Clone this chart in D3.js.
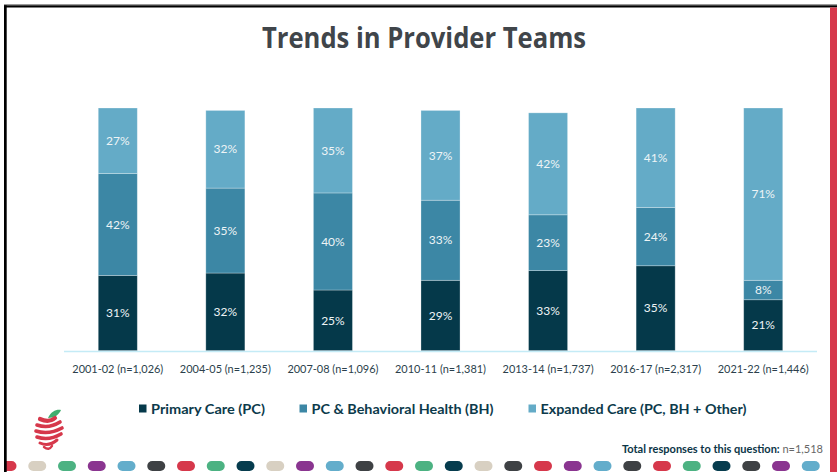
<!DOCTYPE html>
<html>
<head>
<meta charset="utf-8">
<script src="https://cdn.jsdelivr.net/npm/d3@7"></script>
<style>
  html, body { margin: 0; padding: 0; background: #fff; }
  svg { display: block; }
</style>
</head>
<body>
<div id="chart"></div>
<script>
(function() {

// data
const years = ["2001-02 (n=1,026)", "2004-05 (n=1,235)", "2007-08 (n=1,096)", "2010-11 (n=1,381)",
	"2013-14 (n=1,737)", "2016-17 (n=2,317)", "2021-22 (n=1,446)"];
const primaryCare = [31, 32, 25, 29, 33, 35, 21];
const behavioral = [42, 35, 40, 33, 23, 24, 8];
const expanded = [27, 32, 35, 37, 42, 41, 71];
const seriesNames = ["Primary Care (PC)", "PC & Behavioral Health (BH)", "Expanded Care (PC, BH + Other)"];
const dotColors = ["red", "beige", "green", "purple", "blue", "grey", "red", "green", "teal", "beige",
	"purple", "blue", "grey", "red", "green", "teal", "beige", "grey", "red", "purple", "blue", "grey",
	"red", "green", "teal", "grey", "purple", "blue"];

var width = 837, height = 472;
var colors = ["#05394a", "#3c87a5", "#64abc7"];
var palette = { red: "#d6384b", beige: "#d8d0c2", green: "#4cb282", purple: "#8a3590",
	blue: "#63adcb", grey: "#3e4144", teal: "#063c4e" };

const svg = d3.select("#chart").append("svg")
	.attr("width", width)
	.attr("height", height);

// title
svg.append("text")
	.attr("x", 262).attr("y", 48)
	.attr("textLength", 324).attr("lengthAdjust", "spacingAndGlyphs")
	.style("font-family", "'Open Sans', sans-serif")
	.style("font-weight", "bold")
	.style("font-size", "28px")
	.style("fill", "#40454a")
	.text("Trends in Provider Teams");

var x = d3.scaleBand()
	.domain(years)
	.range([64, 817])
	.paddingInner(0.637)
	.paddingOuter(0.3185);

var y = d3.scaleLinear()
	.domain([0, 100])
	.range([350.7, 108]);

var rows = years.map(function(d, i) {
	return { year: d, pc: primaryCare[i], bh: behavioral[i], ex: expanded[i] };
});

var stack = d3.stack().keys(["pc", "bh", "ex"]);
var layers = stack(rows);

var g = svg.append("g");

var layer = g.selectAll(".layer")
	.data(layers)
	.enter().append("g")
	.attr("class", "layer")
	.attr("fill", function(d, i) { return colors[i]; });

layer.selectAll("rect")
	.data(function(d) { return d; })
	.enter().append("rect")
	.attr("x", function(d) { return x(d.data.year); })
	.attr("y", function(d) { return y(d[1]); })
	.attr("width", x.bandwidth())
	.attr("height", function(d) { return y(d[0]) - y(d[1]); })
	.attr("stroke", "rgba(255,255,255,0.35)")
	.attr("stroke-width", 0.8);

layer.selectAll("text")
	.data(function(d) { return d; })
	.enter().append("text")
	.attr("x", function(d) { return x(d.data.year) + x.bandwidth() / 2; })
	.attr("y", function(d) { return (y(d[0]) + y(d[1])) / 2; })
	.attr("dy", "0.35em")
	.attr("text-anchor", "middle")
	.style("font-family", "Lato, sans-serif")
	.style("font-size", "12px")
	.style("fill", "#eef4f6")
	.text(function(d) { return (d[1] - d[0]) + "%"; });

// baseline
svg.append("line")
	.attr("x1", 64).attr("x2", 817)
	.attr("y1", y(0) + 0.8).attr("y2", y(0) + 0.8)
	.attr("stroke", "#c4ebf6")
	.attr("stroke-width", 1.6);

var xAxis = svg.append("g")
	.attr("transform", "translate(0," + (y(0) + 1) + ")")
	.call(d3.axisBottom(x).tickSize(0).tickPadding(14));
xAxis.select(".domain").remove();
xAxis.selectAll("text")
	.style("font-family", "Lato, sans-serif")
	.style("font-size", "11px")
	.style("fill", "#2b3f4c")
	.attr("textLength", 91)
	.attr("lengthAdjust", "spacingAndGlyphs");

// legend
var legendX = [139, 299.5, 528.5];
var legendW = [114, 182, 206];
var legend = svg.selectAll(".legend")
	.data(seriesNames)
	.enter().append("g")
	.attr("class", "legend")
	.attr("transform", function(d, i) { return "translate(" + legendX[i] + ",0)"; });
legend.append("rect")
	.attr("x", 0).attr("y", 404.5)
	.attr("width", 7.5).attr("height", 8)
	.attr("fill", function(d, i) { return colors[i]; });
legend.append("text")
	.attr("x", 12).attr("y", 413.5)
	.attr("textLength", function(d, i) { return legendW[i]; })
	.attr("lengthAdjust", "spacingAndGlyphs")
	.style("font-family", "Lato, sans-serif")
	.style("font-weight", "bold")
	.style("font-size", "13px")
	.style("fill", "#0c3a4b")
	.text(function(d) { return d; });

// total responses note, one text with two runs
var note = svg.append("text")
	.attr("x", 622).attr("y", 453)
	.attr("textLength", 201).attr("lengthAdjust", "spacingAndGlyphs")
	.style("font-family", "Lato, sans-serif")
	.style("font-size", "11px");
note.append("tspan")
	.style("font-weight", "bold")
	.style("fill", "#0b3547")
	.text("Total responses to this question: ");
note.append("tspan")
	.style("fill", "#666")
	.text("n=1,518");

// dots strip along the bottom
svg.selectAll(".dot")
	.data(dotColors)
	.enter().append("rect")
	.attr("class", "dot")
	.attr("x", function(d, i) { return -1.5 + 29.75 * i; })
	.attr("y", 461)
	.attr("width", 18).attr("height", 10)
	.attr("rx", 5)
	.attr("fill", function(d) { return palette[d]; });

// apple logo
var logo = svg.append("g").attr("transform", "translate(49,430)");
logo.append("path")
	.attr("d", "M-1,-12 C2,-19 8,-21 12,-20 C10,-15 5,-12 -1,-12 Z")
	.attr("fill", "#3fae6e");
var stripes = [
	[-9, -11, 6, -12, 7],
	[-12, -5, 11, -8, 6],
	[-13, 1, 13, -2, 6],
	[-12, 7, 12, 4, 6],
	[-9, 13, 8, 10, 5],
	[-5, 17, 3, 16, 4]
];
logo.selectAll(".stripe")
	.data(stripes)
	.enter().append("path")
	.attr("class", "stripe")
	.attr("d", function(s) {
		return "M" + s[0] + "," + s[1] + " Q0," + (s[1] + 4) + " " + s[2] + "," + s[3];
	})
	.attr("fill", "none")
	.attr("stroke", "#d6384b")
	.attr("stroke-width", function(s) { return s[4] * 0.6; })
	.attr("stroke-linecap", "round");

// frame: top rule, left rule, red side bar
svg.append("rect").attr("x", 0).attr("y", 0).attr("width", 4).attr("height", height).attr("fill", "#fff");
svg.append("rect").attr("x", 4).attr("y", 4).attr("width", 833).attr("height", 1.3).attr("fill", "#9a9a9a");
svg.append("rect").attr("x", 4).attr("y", 5.3).attr("width", 833).attr("height", 2.2).attr("fill", "#000");
svg.append("rect").attr("x", 4).attr("y", 5.3).attr("width", 2.7).attr("height", height).attr("fill", "#000");
svg.append("rect").attr("x", 830).attr("y", 7.5).attr("width", 7).attr("height", height).attr("fill", "#d6384b");

})();
</script>
</body>
</html>
